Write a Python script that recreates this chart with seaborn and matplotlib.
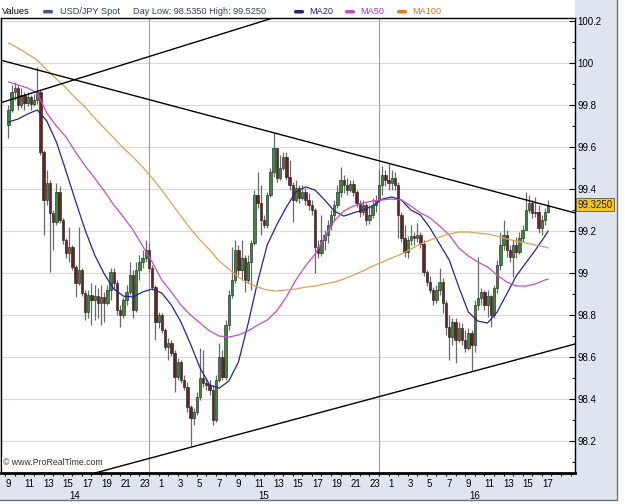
import numpy as np
import pandas as pd
import matplotlib
matplotlib.use('Agg')
import matplotlib.pyplot as plt
import matplotlib.transforms as mtransforms
from matplotlib.patches import Rectangle, FancyBboxPatch
import seaborn as sns

sns.set_theme(style='white')
plt.rcParams['font.family'] = ['Liberation Sans', 'DejaVu Sans']

# USD/JPY 20-minute candles, 14th 09:20 -> 16th 17:40
first_open = 99.705
closes = [99.776, 99.862, 99.881, 99.800, 99.848, 99.810, 99.838, 99.805, 99.824, 99.862,
          99.576, 99.348, 99.429, 99.286, 99.243, 99.386, 99.252, 99.157, 99.095, 99.124,
          99.029, 98.952, 99.014, 98.905, 98.814, 98.895, 98.871, 98.890, 98.857, 98.886,
          98.857, 98.919, 99.005, 98.952, 98.824, 98.800, 98.871, 98.910, 98.990, 98.824,
          99.014, 99.052, 99.071, 99.110, 99.024, 98.933, 98.767, 98.800, 98.729, 98.648,
          98.667, 98.619, 98.505, 98.576, 98.490, 98.457, 98.362, 98.310, 98.338, 98.410,
          98.500, 98.476, 98.467, 98.443, 98.300, 98.490, 98.600, 98.505, 98.752, 98.895,
          98.967, 99.110, 99.014, 99.071, 98.967, 99.052, 99.143, 99.371, 99.333, 99.252,
          99.229, 99.371, 99.481, 99.595, 99.452, 99.500, 99.552, 99.457, 99.419, 99.348,
          99.405, 99.357, 99.386, 99.348, 99.324, 99.300, 99.124, 99.095, 99.157, 99.181,
          99.229, 99.276, 99.324, 99.386, 99.443, 99.419, 99.395, 99.424, 99.386, 99.333,
          99.290, 99.324, 99.252, 99.276, 99.324, 99.348, 99.419, 99.467, 99.443, 99.429,
          99.452, 99.419, 99.276, 99.167, 99.100, 99.157, 99.176, 99.167, 99.181, 99.138,
          99.005, 98.957, 98.919, 98.871, 98.919, 98.957, 98.857, 98.743, 98.695, 98.767,
          98.681, 98.738, 98.681, 98.643, 98.714, 98.657, 98.848, 98.881, 98.910, 98.848,
          98.890, 98.800, 98.929, 99.038, 99.133, 99.181, 99.110, 99.076, 99.133, 99.100,
          99.167, 99.205, 99.300, 99.333, 99.286, 99.290, 99.214, 99.252, 99.290, 99.325]
highs = [99.800, 99.895, 99.910, 99.895, 99.881, 99.862, 99.862, 99.848, 99.852, 99.981,
         99.871, 99.586, 99.490, 99.443, 99.300, 99.429, 99.414, 99.262, 99.167, 99.219,
         99.133, 99.038, 99.219, 99.024, 98.919, 98.919, 98.952, 98.943, 98.929, 98.943,
         98.910, 98.943, 99.024, 99.024, 98.967, 98.848, 98.886, 98.943, 99.052, 99.014,
         99.052, 99.086, 99.110, 99.157, 99.143, 99.038, 98.943, 98.814, 98.810, 98.738,
         98.690, 98.681, 98.633, 98.595, 98.586, 98.514, 98.481, 98.371, 98.357, 98.433,
         98.643, 98.633, 98.500, 98.490, 98.467, 98.514, 98.667, 98.633, 98.776, 98.919,
         99.124, 99.157, 99.133, 99.157, 99.086, 99.086, 99.157, 99.395, 99.481, 99.419,
         99.276, 99.386, 99.500, 99.667, 99.595, 99.562, 99.576, 99.576, 99.538, 99.433,
         99.443, 99.419, 99.419, 99.405, 99.381, 99.348, 99.310, 99.157, 99.276, 99.205,
         99.252, 99.300, 99.348, 99.419, 99.505, 99.467, 99.452, 99.443, 99.443, 99.395,
         99.348, 99.348, 99.333, 99.324, 99.357, 99.371, 99.490, 99.510, 99.490, 99.525,
         99.490, 99.481, 99.433, 99.290, 99.229, 99.176, 99.229, 99.195, 99.238, 99.195,
         99.157, 99.014, 98.986, 98.933, 98.943, 99.024, 98.976, 98.871, 98.800, 98.786,
         98.786, 98.767, 98.762, 98.729, 98.738, 98.729, 98.871, 99.076, 98.929, 98.919,
         98.919, 98.895, 98.943, 99.062, 99.195, 99.252, 99.205, 99.133, 99.157, 99.171,
         99.195, 99.229, 99.386, 99.371, 99.348, 99.362, 99.324, 99.276, 99.310, 99.348]
lows = [99.643, 99.767, 99.824, 99.776, 99.786, 99.776, 99.795, 99.776, 99.795, 99.805,
        99.562, 99.181, 99.324, 99.005, 99.110, 99.229, 99.238, 99.138, 99.071, 99.052,
        99.014, 98.886, 98.943, 98.890, 98.776, 98.786, 98.752, 98.776, 98.786, 98.752,
        98.767, 98.848, 98.871, 98.919, 98.800, 98.743, 98.786, 98.848, 98.895, 98.786,
        98.814, 98.967, 99.024, 99.052, 99.005, 98.919, 98.681, 98.738, 98.714, 98.633,
        98.586, 98.605, 98.433, 98.490, 98.476, 98.443, 98.338, 98.176, 98.276, 98.324,
        98.395, 98.457, 98.443, 98.419, 98.276, 98.290, 98.481, 98.490, 98.490, 98.729,
        98.881, 98.952, 98.990, 98.967, 98.910, 98.952, 98.919, 99.133, 99.310, 99.181,
        99.214, 99.214, 99.362, 99.457, 99.433, 99.443, 99.490, 99.443, 99.395, 99.243,
        99.338, 99.333, 99.348, 99.324, 99.300, 99.276, 99.000, 99.071, 99.081, 99.110,
        99.143, 99.205, 99.252, 99.310, 99.362, 99.381, 99.371, 99.386, 99.367, 99.314,
        99.267, 99.276, 99.229, 99.233, 99.262, 99.290, 99.338, 99.371, 99.414, 99.395,
        99.395, 99.395, 99.167, 99.148, 99.076, 99.071, 99.133, 99.133, 99.148, 99.119,
        98.986, 98.938, 98.905, 98.848, 98.857, 98.895, 98.810, 98.705, 98.586, 98.657,
        98.571, 98.671, 98.657, 98.624, 98.633, 98.535, 98.624, 98.824, 98.848, 98.824,
        98.790, 98.743, 98.786, 98.905, 99.014, 99.110, 99.076, 99.052, 98.981, 99.071,
        99.090, 99.148, 99.205, 99.286, 99.262, 99.267, 99.190, 99.181, 99.229, 99.286]

# moving averages, read once an hour (every 3rd candle) plus the last candle
ma_idx = list(range(0, 169, 3)) + [169]
ma20 = [99.719, 99.733, 99.757, 99.776, 99.724, 99.624, 99.486, 99.343, 99.205, 99.086,
        98.995, 98.924, 98.890, 98.886, 98.910, 98.924, 98.905, 98.848, 98.767, 98.662,
        98.548, 98.467, 98.452, 98.486, 98.576, 98.757, 98.957, 99.133, 99.229, 99.314,
        99.386, 99.410, 99.395, 99.348, 99.295, 99.271, 99.286, 99.300, 99.319, 99.352,
        99.362, 99.348, 99.300, 99.276, 99.214, 99.138, 99.062, 98.933, 98.814, 98.771,
        98.762, 98.814, 98.900, 98.986, 99.048, 99.110, 99.176, 99.200]
ma50 = [99.910, 99.895, 99.881, 99.857, 99.762, 99.700, 99.648, 99.576, 99.510, 99.452,
        99.390, 99.324, 99.267, 99.205, 99.129, 99.052, 98.967, 98.910, 98.848, 98.800,
        98.762, 98.724, 98.700, 98.695, 98.705, 98.724, 98.752, 98.776, 98.819, 98.886,
        98.967, 99.033, 99.090, 99.171, 99.248, 99.295, 99.319, 99.333, 99.343, 99.348,
        99.352, 99.348, 99.319, 99.286, 99.262, 99.224, 99.181, 99.119, 99.081, 99.052,
        99.029, 98.990, 98.957, 98.938, 98.938, 98.948, 98.967, 98.971]
ma100 = [100.095, 100.071, 100.043, 100.014, 99.967, 99.924, 99.881, 99.833, 99.790, 99.738,
         99.690, 99.643, 99.595, 99.552, 99.505, 99.452, 99.395, 99.333, 99.271, 99.210,
         99.157, 99.110, 99.057, 99.019, 98.981, 98.952, 98.933, 98.919, 98.914, 98.919,
         98.924, 98.933, 98.938, 98.948, 98.957, 98.971, 98.990, 99.010, 99.033, 99.052,
         99.071, 99.090, 99.114, 99.138, 99.157, 99.171, 99.186, 99.195, 99.195, 99.190,
         99.186, 99.176, 99.162, 99.152, 99.143, 99.133, 99.124, 99.119]

# hand-drawn trendlines (candle index, price)
tl_down = ([-2.33, 177.38], [100.013, 99.286])
tl_up = ([-2.33, 82.8], [99.811, 100.214])
tl_low = ([27.1, 177.38], [98.048, 98.662])

y_ticks = [98.2, 98.4, 98.6, 98.8, 99.0, 99.2, 99.4, 99.6, 99.8, 100.0, 100.2]
y_labels = ['98.2', '98.4', '98.6', '98.8', '99', '99.2', '99.4', '99.6', '99.8', '100', '100.2']
hour_labels = ['9', '11', '13', '15', '17', '19', '21', '23',
               '1', '3', '5', '7', '9', '11', '13', '15', '17', '19', '21', '23',
               '1', '3', '5', '7', '9', '11', '13', '15', '17']
day_names = ['14', '15', '16']
day_pos = [20.8, 80.0, 146.0]
day_breaks = [44, 116]
last_price = 99.325

opens = [first_open] + closes[:-1]
idx = np.arange(len(closes))
o = np.array(opens)
c = np.array(closes)

fig = plt.figure(figsize=(6.25, 5.04), dpi=100, facecolor='white')
# grey-blue panel round the plot, white strip for the header
fig.patches.append(Rectangle((-0.01, 0.0079), 0.997, 1.02, transform=fig.transFigure,
                             facecolor='#dfe5ee', edgecolor='#6b7380', lw=1, zorder=-10))
fig.patches.append(Rectangle((0, 1 - 18 / 504), 575 / 625, 18 / 504, transform=fig.transFigure,
                             facecolor='white', edgecolor='none', zorder=-9))
ax = fig.add_axes([0.0016, 0.0615, 0.9184, 0.9028])
ax.set_facecolor('white')

# grid + day separators
for yv in y_ticks:
    ax.axhline(yv, color='#d9d9d9', lw=0.8, zorder=0)
for xb in day_breaks:
    ax.axvline(xb, color='#9c9c9c', lw=0.8, zorder=0)

# candles
ax.vlines(idx, lows, highs, color='#6a6a6a', lw=0.9, zorder=2)
up = c >= o
body_h = np.maximum(np.abs(c - o), 0.004)
body_colors = np.where(up, '#3f873f', '#6a2323')
ax.bar(idx, body_h, bottom=np.minimum(o, c), width=0.75, color=body_colors,
       edgecolor='#1b1b1b', linewidth=0.4, zorder=3)

# moving averages
ma_df = pd.DataFrame({'idx': ma_idx * 3, 'value': ma20 + ma50 + ma100,
                      'series': ['MA20'] * len(ma20) + ['MA50'] * len(ma50) + ['MA100'] * len(ma100)})
sns.lineplot(data=ma_df, x='idx', y='value', hue='series',
             palette={'MA20': '#26268a', 'MA50': '#c24fc2', 'MA100': '#d9a25e'},
             linewidth=0.9, legend=False, ax=ax, zorder=4, estimator=None)

# trendlines
for tl in (tl_down, tl_up, tl_low):
    ax.plot(tl[0], tl[1], color='black', lw=1.0, zorder=5)

ax.set_xlim(-2.33, 177.38)
ax.set_ylim(98.048, 100.214)

# y axis on right
ax.yaxis.tick_right()
ax.set_yticks(y_ticks)
ax.set_yticklabels(y_labels)
ax.set_yticks([v + 0.1 for v in y_ticks[:-1]] + [98.1], minor=True)
ax.tick_params(axis='y', which='major', direction='in', length=4, width=0.8, pad=2,
               labelsize=7, colors='black', right=True, left=False)
ax.tick_params(axis='y', which='minor', direction='in', length=2.5, width=0.8, right=True, left=False)

# x axis: hourly ticks, odd hours labelled
hours = list(range(9, 69))
hour_pos = [3 * h - 28 for h in hours]
ax.set_xticks(hour_pos)
labs = []
k = 0
for h in hours:
    if h % 2 == 1 and h <= 65:
        labs.append(hour_labels[k])
        k += 1
    else:
        labs.append('')
ax.set_xticklabels(labs)
ax.tick_params(axis='x', which='major', direction='out', length=2.5, width=0.8, pad=1.5,
               labelsize=7, colors='black', bottom=True)
plt.setp(ax.get_xticklabels(), ha='left')
ax.set_xlabel('')
ax.set_ylabel('')

trans = mtransforms.blended_transform_factory(ax.transData, ax.transAxes)
for name, pos in zip(day_names, day_pos):
    ax.text(pos, -0.051, name, transform=trans, ha='center', va='center', fontsize=7, color='black')

for side in ['top', 'left', 'right']:
    ax.spines[side].set_color('black')
    ax.spines[side].set_linewidth(1.0)
ax.spines['bottom'].set_color('black')
ax.spines['bottom'].set_linewidth(2.0)

# last price flag
ytrans = mtransforms.blended_transform_factory(ax.transAxes, ax.transData)
ax.text(1.004, last_price, '%.4f' % last_price, transform=ytrans, ha='left', va='center',
        fontsize=7, color='#202020', zorder=10, clip_on=False,
        bbox=dict(boxstyle='square,pad=0.18', facecolor='#f4c430', edgecolor='#6b5a1a', lw=0.6))

# watermark
ax.text(0.004, 0.013, '\u00a9 www.ProRealTime.com', transform=ax.transAxes, ha='left', va='bottom',
        fontsize=6.3, color='#333333', zorder=6,
        bbox=dict(boxstyle='square,pad=0.1', facecolor='white', edgecolor='none'))

# header legend
yy = 1 - 11.5 / 504
fig.text(2 / 625, yy, 'Values', ha='left', va='center', fontsize=6.6, color='black')
legend_items = [(43, 60, 'USD/JPY Spot', '#3d5a8a', '#2d3f63'),
                (294, 309, 'MA20', '#22227f', '#22227f'),
                (345, 360, 'MA50', '#c24fc2', '#a83aa8'),
                (397, 412, 'MA100', '#e07b26', '#d0762a')]
for mx, tx, txt, mcol, tcol in legend_items:
    fig.patches.append(FancyBboxPatch((mx / 625, 1 - 13.5 / 504), 10 / 625, 3.5 / 504,
                                      boxstyle='round,pad=0,rounding_size=0.003',
                                      transform=fig.transFigure, facecolor=mcol, edgecolor='none'))
    fig.text(tx / 625, yy, txt, ha='left', va='center', fontsize=6.6, color=tcol)
fig.text(133 / 625, yy, 'Day Low: 98.5350 High: 99.5250', ha='left', va='center',
         fontsize=6.6, color='#34425e')

fig.savefig('out.png', dpi=100, facecolor=fig.get_facecolor())
